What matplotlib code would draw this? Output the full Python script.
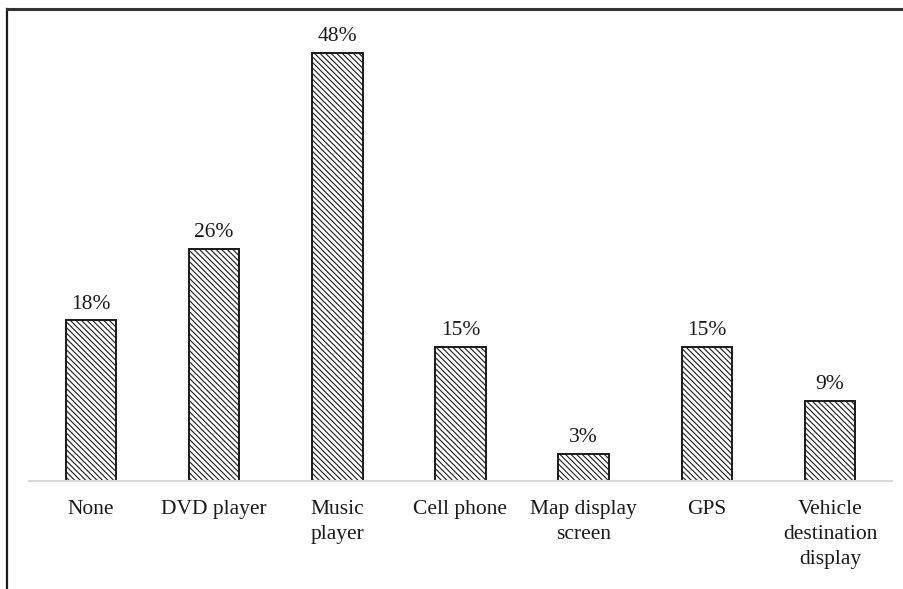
import numpy as np
import matplotlib.pyplot as plt
from matplotlib.lines import Line2D

categories = ["None", "DVD player", "Music\nplayer", "Cell phone",
              "Map display\nscreen", "GPS", "Vehicle\ndestination\ndisplay"]
values = [18, 26, 48, 15, 3, 15, 9]
labels = ["18%", "26%", "48%", "15%", "3%", "15%", "9%"]

plt.rcParams["font.family"] = ["Liberation Serif", "DejaVu Serif"]
plt.rcParams["hatch.linewidth"] = 0.8

fig = plt.figure(figsize=(9.04, 5.89), dpi=100)
ax = fig.add_axes([0.0325, 0.1834, 0.9538, 0.7826])

x = np.arange(len(values))
bars = ax.bar(x, values, width=0.41, color="white", edgecolor="#1a1a1a",
              linewidth=1.4, hatch="\\" * 6, zorder=2)
for b, lab in zip(bars, labels):
    ax.annotate(lab, (b.get_x() + b.get_width() / 2, b.get_height()),
                xytext=(0, 5), textcoords="offset points",
                ha="center", va="bottom", fontsize=15.5, color="#1a1a1a")

ax.set_xlim(-0.5, len(values) - 0.5)
ax.set_ylim(0, 51.7)
ax.set_xticks(x)
ax.set_xticklabels(categories, fontsize=15.5, color="#1a1a1a", linespacing=1.4)
ax.tick_params(axis="x", length=0, pad=14)
ax.set_yticks([])
for s in ["top", "right", "left"]:
    ax.spines[s].set_visible(False)
ax.spines["bottom"].set_color("#d9d9d9")
ax.spines["bottom"].set_linewidth(1.5)

# outer frame (left and top only, as in the cropped original)
fig.add_artist(Line2D([7 / 904, 7 / 904], [0, 1 - 9 / 589], color="#1a1a1a", lw=1.6))
fig.add_artist(Line2D([7 / 904, 1], [1 - 9 / 589, 1 - 9 / 589], color="#333333", lw=2.2))

fig.savefig("out.png", dpi=100)
